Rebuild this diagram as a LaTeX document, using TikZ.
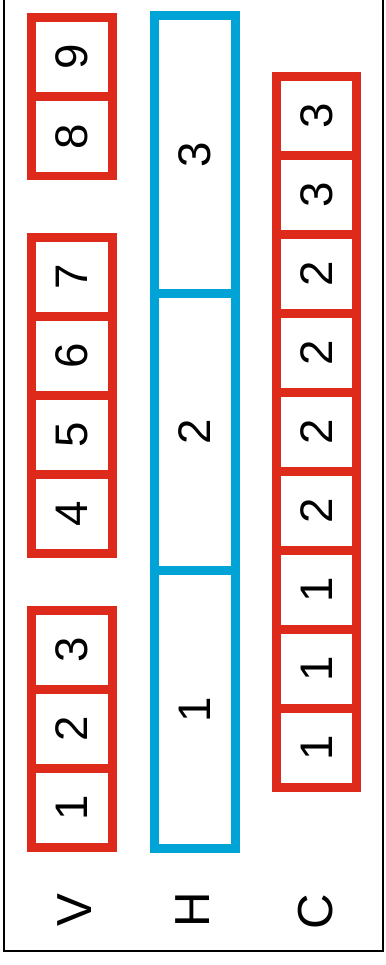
\documentclass[tikz,border=0pt]{standalone}
\usepackage{fontspec}
\setmainfont{Liberation Sans}
\definecolor{cellred}{RGB}{221,42,27}
\definecolor{cellblue}{RGB}{0,163,214}
\tikzset{
  cell/.style={draw=cellred,line width=5.1pt,rotate=90,inner sep=0pt,
    minimum width=1.58cm,minimum height=1.62cm,font=\fontsize{26}{30}\selectfont},
  hcell/.style={cell,draw=cellblue,minimum width=5.554cm},
  rowlabel/.style={rotate=90,inner sep=0pt,font=\fontsize{28}{32}\selectfont}
}
\begin{document}
\begin{tikzpicture}[x=0.02cm,y=-0.02cm]
\useasboundingbox (0,0) rectangle (386,965);
\draw[line width=1.3pt] (4,0) -- (4,951) -- (383,951) -- (383,0);
% V row: three groups of cells
\foreach \n/\y in {1/808,2/729,3/650,4/514,5/435,6/356,7/277,8/136.5,9/57}
  \node[cell] (v\n) at (72,\y) {\n};
% H row
\foreach \n/\y in {1/709.7,2/432,3/154.3}
  \node[hcell] (h\n) at (195,\y) {\n};
% C row
\foreach \n/\v [evaluate=\n as \y using 116+79*(\n-1)] in {1/3,2/3,3/2,4/2,5/2,6/2,7/1,8/1,9/1}
  \node[cell,minimum height=1.6cm] (c\n) at (316.5,\y) {\v};
% row labels
\node[rowlabel] (lv) at (75,910) {V};
\node[rowlabel] (lh) at (193,910) {H};
\node[rowlabel] (lc) at (316,912) {C};
\end{tikzpicture}
\end{document}
